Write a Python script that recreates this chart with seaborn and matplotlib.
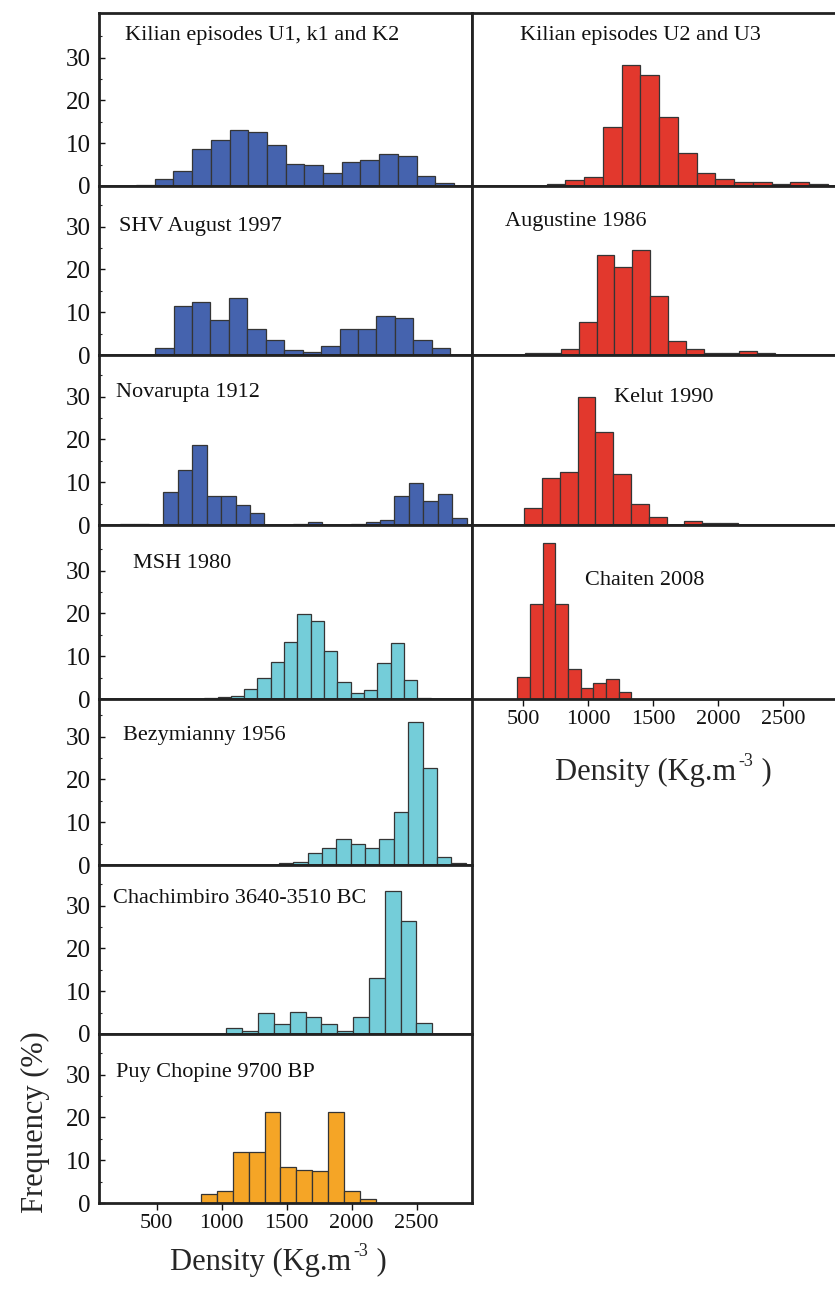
import numpy as np
import pandas as pd
import matplotlib
matplotlib.use("Agg")
import matplotlib.pyplot as plt
from matplotlib.ticker import FixedLocator
import seaborn as sns

# ---------------- data (frequency %) ----------------
# left column
kilian_u1_name = "Kilian episodes U1, k1 and K2"
kilian_u1_start, kilian_u1_width = 340, 144
kilian_u1_freq = [0.2, 1.7, 3.6, 8.6, 10.7, 13.1, 12.6, 9.5, 5.2, 5.0, 3.1,
                  5.7, 6.0, 7.4, 7.1, 2.4, 0.7]

shv_name = "SHV August 1997"
shv_start, shv_width = 487, 142
shv_freq = [1.7, 11.5, 12.4, 8.1, 13.4, 6.1, 3.6, 1.2, 0.7, 2.2, 6.0, 6.0,
            9.0, 8.6, 3.6, 1.7]

novarupta_name = "Novarupta 1912"
novarupta_start, novarupta_width = 217, 111.2
novarupta_freq = [0.3, 0.3, 0.0, 7.7, 12.8, 18.8, 6.7, 6.7, 4.7, 2.7, 0.0, 0.0,
                  0.3, 0.7, 0.0, 0.0, 0.3, 0.7, 1.2, 6.7, 9.8, 5.7, 7.2, 1.7]

msh_name = "MSH 1980"
msh_start, msh_width = 865, 102.6
msh_freq = [0.15, 0.5, 0.7, 2.4, 5.0, 8.7, 13.3, 19.9, 18.2, 11.1, 4.0, 1.4,
            2.1, 8.3, 13.1, 4.5, 0.2]

bezy_name = "Bezymianny 1956"
bezy_start, bezy_width = 1439, 110.7
bezy_freq = [0.4, 0.8, 2.9, 3.9, 6.0, 4.9, 3.9, 6.0, 12.5, 33.3, 22.7, 1.9, 0.4]

chachi_name = "Chachimbiro 3640-3510 BC"
chachi_start, chachi_width = 1035, 122
chachi_freq = [1.35, 0.8, 4.8, 2.4, 5.1, 3.9, 2.4, 0.8, 3.9, 13.1, 33.5, 26.5,
               2.6, 0.0]

puy_name = "Puy Chopine 9700 BP"
puy_start, puy_width = 842, 122
puy_freq = [2.0, 2.8, 11.8, 11.8, 21.2, 8.3, 7.8, 7.4, 21.2, 2.8, 0.9]

# right column
kilian_u2_name = "Kilian episodes U2 and U3"
kilian_u2_start, kilian_u2_width = 680, 144.3
kilian_u2_freq = [0.55, 1.35, 2.1, 13.7, 28.2, 25.9, 16.2, 7.8, 3.0, 1.75,
                  0.95, 0.95, 0.55, 0.95, 0.55]

augustine_name = "Augustine 1986"
augustine_start, augustine_width = 515, 137.4
augustine_freq = [0.4, 0.4, 1.35, 7.8, 23.4, 20.6, 24.5, 13.7, 3.3, 1.35, 0.4,
                  0.4, 1.0, 0.4]

kelut_name = "Kelut 1990"
kelut_start, kelut_width = 508, 137
kelut_freq = [4.0, 10.9, 12.4, 29.8, 21.8, 11.9, 4.9, 1.9, 0.0, 1.0, 0.5, 0.5]

chaiten_name = "Chaiten 2008"
chaiten_start, chaiten_width = 456, 97.3
chaiten_freq = [5.2, 22.3, 36.5, 22.3, 7.1, 2.6, 3.65, 4.7, 1.7]

x_ticks = [500, 1000, 1500, 2000, 2500]
y_ticks = [0, 10, 20, 30]
x_label_main = "Density (Kg.m"
x_label_sup = "-3"
x_label_end = " )"
y_label = "Frequency (%)"

# ---------------- style ----------------
BLUE = "#4563AE"
RED = "#E2382D"
CYAN = "#74CDD9"
ORANGE = "#F5A526"
EDGE = "#353535"
SPINE = "#222222"

sns.set_style("white")
plt.rcParams["font.family"] = ["Liberation Serif", "DejaVu Serif"]

W, H = 835, 1294
fig = plt.figure(figsize=(W / 100, H / 100), dpi=100)

rows = [(13, 186), (186, 355), (355, 525), (525, 699), (699, 865), (865, 1034), (1034, 1203)]
LEFT_X = (99, 472)
RIGHT_X = (472, 835)
LEFT_XLIM = (55, 2927)
RIGHT_XLIM = (106, 2900)
PX_PER_UNIT = 4.28

left_panels = [
    (kilian_u1_name, kilian_u1_start, kilian_u1_width, kilian_u1_freq, BLUE, (0.07, 0.87)),
    (shv_name, shv_start, shv_width, shv_freq, BLUE, (0.054, 0.76)),
    (novarupta_name, novarupta_start, novarupta_width, novarupta_freq, BLUE, (0.046, 0.78)),
    (msh_name, msh_start, msh_width, msh_freq, CYAN, (0.09, 0.78)),
    (bezy_name, bezy_start, bezy_width, bezy_freq, CYAN, (0.064, 0.78)),
    (chachi_name, chachi_start, chachi_width, chachi_freq, CYAN, (0.037, 0.80)),
    (puy_name, puy_start, puy_width, puy_freq, ORANGE, (0.046, 0.77)),
]
right_panels = [
    (kilian_u2_name, kilian_u2_start, kilian_u2_width, kilian_u2_freq, RED, (0.132, 0.87)),
    (augustine_name, augustine_start, augustine_width, augustine_freq, RED, (0.09, 0.79)),
    (kelut_name, kelut_start, kelut_width, kelut_freq, RED, (0.39, 0.75)),
    (chaiten_name, chaiten_start, chaiten_width, chaiten_freq, RED, (0.31, 0.68)),
]


def make_axes(xpx, ypx):
    x0, x1 = xpx
    y0, y1 = ypx
    return fig.add_axes([x0 / W, 1 - y1 / H, (x1 - x0) / W, (y1 - y0) / H])


def draw(ax, spec, xlim, ypx, left_col, bottom):
    name, start, width, freq, color, tpos = spec
    n = len(freq)
    edges = start + width * np.arange(n + 1)
    df = pd.DataFrame({"density": edges[:-1] + width / 2,
                       "freq": np.asarray(freq, dtype=float)})
    sns.histplot(data=df, x="density", weights="freq", bins=list(edges), ax=ax,
                 color=color, alpha=1, edgecolor=EDGE, linewidth=0.9, stat="count")
    ax.set_xlim(*xlim)
    ax.set_ylim(0, (ypx[1] - ypx[0]) / PX_PER_UNIT)
    ax.set_ylabel("")
    ax.set_xlabel("")
    ax.text(tpos[0], tpos[1], name, transform=ax.transAxes, fontsize=16,
            ha="left", va="center", color="#111111")
    for s in ax.spines.values():
        s.set_linewidth(2.0)
        s.set_color(SPINE)
    if not left_col:
        ax.spines["right"].set_visible(False)
    if left_col:
        ax.yaxis.set_major_locator(FixedLocator(y_ticks))
        ax.yaxis.set_minor_locator(FixedLocator([5, 15, 25, 35]))
        ax.set_yticklabels([str(t) for t in y_ticks])
        ax.tick_params(axis="y", which="major", direction="in", length=4,
                       width=1.0, left=True, labelsize=18, pad=6, colors="#111111")
        ax.tick_params(axis="y", which="minor", direction="in", length=2.5,
                       width=0.8, left=True)
    else:
        ax.set_yticks([])
    if bottom:
        ax.set_xticks(x_ticks)
        ax.set_xticklabels([str(t) for t in x_ticks])
        ax.tick_params(axis="x", which="major", direction="out", length=5,
                       width=1.0, bottom=True, labelsize=16, pad=3, colors="#111111")
    else:
        ax.set_xticks([])


for i, spec in enumerate(left_panels):
    ax = make_axes(LEFT_X, rows[i])
    draw(ax, spec, LEFT_XLIM, rows[i], True, i == len(left_panels) - 1)

for i, spec in enumerate(right_panels):
    ax = make_axes(RIGHT_X, rows[i])
    draw(ax, spec, RIGHT_XLIM, rows[i], False, i == len(right_panels) - 1)


def density_label(x_left_px, y_px):
    t1 = fig.text(x_left_px / W, 1 - y_px / H, x_label_main, fontsize=22,
                  ha="left", va="center")
    fig.canvas.draw()
    bb = t1.get_window_extent()
    x_sup = bb.x1 + 2
    t2 = fig.text(x_sup / W, 1 - (y_px - 11) / H, x_label_sup, fontsize=13,
                  ha="left", va="center")
    bb2 = t2.get_window_extent()
    fig.text((bb2.x1 + 1) / W, 1 - y_px / H, x_label_end, fontsize=22,
             ha="left", va="center")


density_label(170, 1262)
density_label(555, 772)
fig.text(35 / W, 1 - 1122 / H, y_label, fontsize=22, ha="center", va="center",
         rotation=90)

fig.savefig("out.png", dpi=100, facecolor="white")
